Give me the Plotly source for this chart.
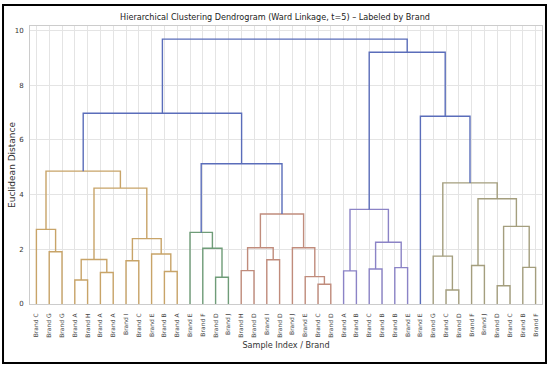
import plotly.graph_objects as go

# ---- data ----
leaf_labels = ["Brand C", "Brand G", "Brand G", "Brand A", "Brand H", "Brand A", "Brand A", "Brand I",
               "Brand C", "Brand E", "Brand B", "Brand A", "Brand E", "Brand F", "Brand D", "Brand J",
               "Brand H", "Brand D", "Brand I", "Brand D", "Brand J", "Brand E", "Brand C", "Brand D",
               "Brand A", "Brand B", "Brand C", "Brand B", "Brand B", "Brand E", "Brand E", "Brand G",
               "Brand C", "Brand D", "Brand F", "Brand J", "Brand D", "Brand C", "Brand B", "Brand F"]

# merges: (left id, right id, height, cluster) ; new ids start at 40
merge_left = [1, 0, 3, 5, 42, 7, 10, 9, 45, 44, 41,
              14, 13, 12,
              16, 18, 54, 22, 21, 20, 56,
              53, 50,
              24, 26, 28, 64, 63,
              32, 31, 34, 36, 38, 71, 70, 69,
              30, 67, 62]
merge_right = [2, 40, 4, 6, 43, 8, 11, 46, 47, 48, 49,
               15, 51, 52,
               17, 19, 55, 23, 57, 58, 59,
               60, 61,
               25, 27, 29, 65, 66,
               33, 68, 35, 37, 39, 72, 73, 74,
               75, 76, 77]
merge_height = [1.91, 2.73, 0.88, 1.15, 1.63, 1.58, 1.19, 1.83, 2.39, 4.24, 4.86,
                0.98, 2.04, 2.62,
                1.22, 1.62, 2.06, 0.72, 1.00, 2.06, 3.29,
                5.13, 6.98,
                1.21, 1.28, 1.33, 2.26, 3.46,
                0.51, 1.75, 1.41, 0.67, 1.34, 2.84, 3.85, 4.43,
                6.87, 9.21, 9.69]
merge_group = ["C1"] * 11 + ["C2"] * 3 + ["C3"] * 7 + ["above"] * 2 + ["C4"] * 5 + ["C5"] * 8 + ["above"] * 3

group_colors = {"C1": "#c8a468", "C2": "#6f9c78", "C3": "#c08c7c",
                "C4": "#8b83c6", "C5": "#a49e7e", "above": "#5a6dba"}

# ---- build U-links ----
n = len(leaf_labels)
xpos = {i: 5 + 10 * i for i in range(n)}
hpos = {i: 0.0 for i in range(n)}
segs = {k: ([], []) for k in group_colors}
for k, (a, b, h, g) in enumerate(zip(merge_left, merge_right, merge_height, merge_group)):
    xa, xb = xpos[a], xpos[b]
    xs, ys = segs[g]
    xs += [xa, xa, xb, xb, None]
    ys += [hpos[a], h, h, hpos[b], None]
    xpos[n + k] = (xa + xb) / 2
    hpos[n + k] = h

fig = go.Figure()
for g, (xs, ys) in segs.items():
    fig.add_trace(go.Scatter(x=xs, y=ys, mode="lines",
                             line=dict(color=group_colors[g], width=1.4),
                             hoverinfo="skip", showlegend=False))

fig.update_layout(
    width=550, height=367,
    margin=dict(l=30, r=8, t=26, b=63, autoexpand=False),
    paper_bgcolor="white", plot_bgcolor="white",
    font=dict(family="DejaVu Sans", color="#333333"),
    title=dict(text="Hierarchical Clustering Dendrogram (Ward Linkage, t=5) – Labeled by Brand",
               x=0.5, xanchor="center", y=0.955, yanchor="middle",
               font=dict(family="Liberation Sans Narrow, DejaVu Sans Condensed, sans-serif", size=9, color="#222222")),
    showlegend=False,
)
fig.update_xaxes(
    range=[0, 10 * n], automargin=False,
    tickmode="array", tickvals=[5 + 10 * i for i in range(n)], ticktext=leaf_labels,
    tickangle=-90, tickfont=dict(size=6, family="DejaVu Sans", color="#444444"),
    ticks="", ticklabelstandoff=6,
    showgrid=True, gridcolor="#e4e4e4", gridwidth=1,
    showline=True, linecolor="#cccccc", linewidth=1, mirror=True, zeroline=False,
    title=dict(text="Sample Index / Brand", standoff=4,
               font=dict(family="Liberation Sans Narrow, DejaVu Sans Condensed, sans-serif", size=9, color="#333333")),
)
fig.update_yaxes(
    range=[0, 10.17], automargin=False,
    tickvals=[0, 2, 4, 6, 8, 10], tickfont=dict(size=7, family="Liberation Sans Narrow, DejaVu Sans", color="#333333"),
    ticks="", ticklabelstandoff=4,
    showgrid=True, gridcolor="#e4e4e4", gridwidth=1,
    showline=True, linecolor="#cccccc", linewidth=1, mirror=True, zeroline=False,
)
fig.add_annotation(text="Euclidean Distance", xref="paper", yref="paper",
                   x=-0.0352, y=0.5, xanchor="center", yanchor="middle",
                   textangle=-90, showarrow=False,
                   font=dict(family="DejaVu Sans", size=9, color="#333333"))
# outer frame of the picture
fig.add_shape(type="rect", xref="paper", yref="paper",
              x0=-0.0527, x1=1.0078, y0=-0.212, y1=1.0755,
              line=dict(color="black", width=2), layer="above")

fig.write_html("out.html", config={"displayModeBar": False},
               post_script="document.body.style.margin='0';")
